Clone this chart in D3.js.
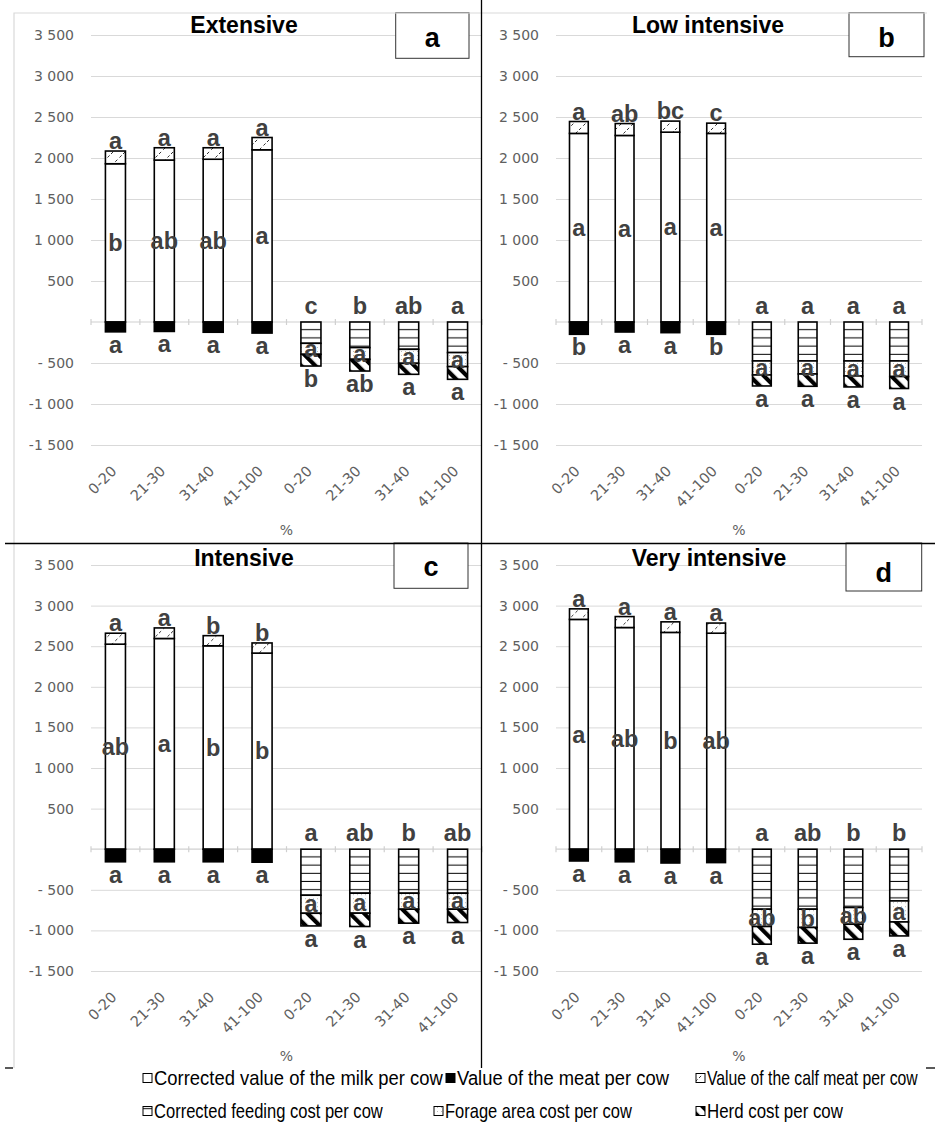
<!DOCTYPE html>
<html><head><meta charset="utf-8">
<script src="https://cdn.jsdelivr.net/npm/d3@7"></script>
<style>body{margin:0;background:#fff} svg{display:block}</style>
</head><body>
<svg id="c" width="937" height="1127"></svg>
<script>
// ---------- DATA ----------
const categories = ["0-20","21-30","31-40","41-100"];
const yTicks = [-1500,-1000,-500,0,500,1000,1500,2000,2500,3000,3500];
const yTickLabels = ["-1 500","-1 000","- 500","","500","1 000","1 500","2 000","2 500","3 000","3 500"];
const panelTitles = ["Extensive","Low intensive","Intensive","Very intensive"];
const panelLetters = ["a","b","c","d"];
const xTitle = "%";

// revenues (first four bars of each panel)
const milk     = [[1930,1975,1985,2100],[2300,2275,2315,2300],[2525,2595,2505,2415],[2830,2730,2670,2660]];
const calfMeat = [[155,150,140,150],[145,145,135,125],[135,130,125,125],[130,135,130,125]];
const meat     = [[-120,-115,-125,-135],[-150,-122,-130,-150],[-155,-155,-155,-160],[-145,-155,-170,-165]];
// costs (last four bars of each panel)
const feedingCost = [[-260,-312,-333,-373],[-475,-475,-475,-475],[-567,-542,-542,-542],[-739,-739,-718,-637]];
const forageCost  = [[-134,-143,-171,-171],[-171,-159,-183,-190],[-222,-246,-197,-197],[-213,-225,-206,-259]];
const herdCost    = [[-143,-143,-134,-155],[-134,-150,-134,-146],[-156,-164,-172,-164],[-218,-193,-185,-172]];

// significance letters
const milkSig    = [["b","ab","ab","a"],["a","a","a","a"],["ab","a","b","b"],["a","ab","b","ab"]];
const calfSig    = [["a","a","a","a"],["a","ab","bc","c"],["a","a","b","b"],["a","a","a","a"]];
const meatSig    = [["a","a","a","a"],["b","a","a","b"],["a","a","a","a"],["a","a","a","a"]];
const feedingSig = [["c","b","ab","a"],["a","a","a","a"],["a","ab","b","ab"],["a","ab","b","b"]];
const forageSig  = [["a","a","a","a"],["a","a","a","a"],["a","a","a","a"],["ab","b","ab","a"]];
const herdSig    = [["b","ab","a","a"],["a","a","a","a"],["a","a","a","a"],["a","a","a","a"]];

const legendNames = [
  ["Corrected value of the milk per cow","Value of the meat per cow","Value of the calf meat per cow"],
  ["Corrected feeding cost per cow","Forage area cost per cow","Herd cost per cow"]
];

// ---------- LAYOUT ----------
const panels = [
  {x0:91, x1:482, yTop:35,  yBot:445, titleX:244, titleY:33,  box:[395.7,12.7,73.3,45.6], letterY:47,  pctY:535},
  {x0:556,x1:922, yTop:35,  yBot:445, titleX:708, titleY:33,  box:[849,12.7,75,44],       letterY:47,  pctY:535},
  {x0:91, x1:482, yTop:565, yBot:971, titleX:244, titleY:566, box:[394,543,74,45.3],      letterY:576, pctY:1061},
  {x0:556,x1:922, yTop:565, yBot:971, titleX:709, titleY:566, box:[846,543,75.7,48],      letterY:582, pctY:1061}
];

const svg = d3.select("#c");
const defs = svg.append("defs");
const tickFont = "'DejaVu Sans', sans-serif";
const labFont = "'Liberation Sans', Arial, sans-serif";

function makePatterns(id, yOff){
  let p = defs.append("pattern").attr("id","calf"+id).attr("patternUnits","userSpaceOnUse")
    .attr("width",12).attr("height",12).attr("patternTransform",`translate(3,${yOff})`);
  p.append("rect").attr("width",12).attr("height",12).attr("fill","#fff");
  p.append("path").attr("d","M0,12 L12,0").attr("stroke","#333").attr("stroke-width",1).attr("stroke-dasharray","3,3");
  p = defs.append("pattern").attr("id","feed"+id).attr("patternUnits","userSpaceOnUse")
    .attr("width",8).attr("height",8.2).attr("patternTransform",`translate(0,${yOff})`);
  p.append("rect").attr("width",8).attr("height",8.2).attr("fill","#fff");
  p.append("rect").attr("y",7.2).attr("width",8).attr("height",1.3).attr("fill","#000");
  p = defs.append("pattern").attr("id","forage"+id).attr("patternUnits","userSpaceOnUse")
    .attr("width",4).attr("height",4).attr("patternTransform",`translate(0,${yOff})`);
  p.append("rect").attr("width",4).attr("height",4).attr("fill","#fff");
  p.append("rect").attr("x",1).attr("y",1).attr("width",0.9).attr("height",0.9).attr("fill","#aaa");
  p = defs.append("pattern").attr("id","herd"+id).attr("patternUnits","userSpaceOnUse")
    .attr("width",10).attr("height",10).attr("patternTransform",`translate(0,${yOff}) rotate(-45)`);
  p.append("rect").attr("width",10).attr("height",10).attr("fill","#fff");
  p.append("rect").attr("width",4.2).attr("height",10).attr("fill","#000");
}

panels.forEach((P, pi) => {
  const slots = d3.range(8);
  const x = d3.scaleBand().domain(slots).range([P.x0, P.x1]).paddingInner(0.59).paddingOuter(0.295);
  const y = d3.scaleLinear().domain([-1500, 3500]).range([P.yBot, P.yTop]);
  const step = x.step();
  makePatterns(pi, y(0));
  const g = svg.append("g");

  const yAxis = d3.axisLeft(y).tickValues(yTicks).tickFormat((d,i)=>yTickLabels[i])
    .tickSize(-(P.x1-P.x0)).tickPadding(17);
  const ga = g.append("g").attr("transform",`translate(${P.x0},0)`).call(yAxis);
  ga.select(".domain").remove();
  ga.selectAll(".tick line").attr("stroke","#d9d9d9").attr("stroke-width",1)
    .attr("opacity", d => d===0 ? 0 : 1);
  ga.selectAll(".tick text").attr("fill","#606060").style("font-family",tickFont).style("font-size","14px");

  g.append("line").attr("x1",P.x0).attr("x2",P.x1).attr("y1",y(0)).attr("y2",y(0))
    .attr("stroke","#d0d0d0").attr("stroke-width",1.2);
  g.selectAll(".ctick").data(d3.range(9)).join("line")
    .attr("x1",k=>P.x0+k*step).attr("x2",k=>P.x0+k*step)
    .attr("y1",y(0)-3).attr("y2",y(0)+3).attr("stroke","#d0d0d0").attr("stroke-width",1.2);

  g.selectAll(".xl").data(slots).join("text")
    .attr("transform",s=>`translate(${x(s)+x.bandwidth()/2+2},${P.yBot+27}) rotate(-45)`)
    .attr("text-anchor","end").attr("fill","#606060")
    .style("font-family",tickFont).style("font-size","14.5px")
    .text(s=>categories[s%4]);
  g.append("text").attr("x",(P.x0+P.x1)/2).attr("y",P.pctY).attr("text-anchor","middle")
    .attr("fill","#606060").style("font-family",tickFont).style("font-size","14px").text(xTitle);

  const segs = [];
  categories.forEach((c,i)=>{
    const m = milk[pi][i], cf = calfMeat[pi][i], mt = meat[pi][i];
    segs.push({s:i, a:0, b:m, fill:"#fff"});
    segs.push({s:i, a:m, b:m+cf, fill:`url(#calf${pi})`});
    segs.push({s:i, a:0, b:mt, fill:"#000"});
    const f = feedingCost[pi][i], fo = forageCost[pi][i], h = herdCost[pi][i];
    segs.push({s:4+i, a:0, b:f, fill:`url(#feed${pi})`});
    segs.push({s:4+i, a:f, b:f+fo, fill:`url(#forage${pi})`});
    segs.push({s:4+i, a:f+fo, b:f+fo+h, fill:`url(#herd${pi})`});
  });
  g.selectAll(".seg").data(segs).join("rect")
    .attr("x",d=>x(d.s)).attr("width",x.bandwidth())
    .attr("y",d=>y(Math.max(d.a,d.b))).attr("height",d=>Math.abs(y(d.a)-y(d.b)))
    .attr("fill",d=>d.fill).attr("stroke","#000").attr("stroke-width",1.6);

  const labs = [];
  categories.forEach((c,i)=>{
    const cx = x(i)+x.bandwidth()/2, cx2 = x(4+i)+x.bandwidth()/2;
    const m = milk[pi][i], cf = calfMeat[pi][i], mt = meat[pi][i];
    labs.push({x:cx, y:y(m/2), dy:"0.35em", t:milkSig[pi][i]});
    labs.push({x:cx, y:y(m+cf)-2, dy:0, t:calfSig[pi][i]});
    labs.push({x:cx, y:y(mt)+21, dy:0, t:meatSig[pi][i]});
    const f = feedingCost[pi][i], fo = forageCost[pi][i], h = herdCost[pi][i];
    labs.push({x:cx2, y:y(0)-8, dy:0, t:feedingSig[pi][i]});
    labs.push({x:cx2, y:y(f+fo/2), dy:"0.35em", t:forageSig[pi][i]});
    labs.push({x:cx2, y:y(f+fo+h)+21, dy:0, t:herdSig[pi][i]});
  });
  g.selectAll(".lab").data(labs).join("text")
    .attr("x",d=>d.x).attr("y",d=>d.y).attr("dy",d=>d.dy).attr("text-anchor","middle")
    .attr("fill","#404040").style("font-family",labFont).style("font-weight","bold").style("font-size","23.5px")
    .text(d=>d.t);

  g.append("text").attr("x",P.titleX).attr("y",P.titleY).attr("text-anchor","middle")
    .style("font-family",labFont).style("font-weight","bold").style("font-size","23px").attr("fill","#000")
    .text(panelTitles[pi]);
  g.append("rect").attr("x",P.box[0]).attr("y",P.box[1]).attr("width",P.box[2]).attr("height",P.box[3])
    .attr("fill","#fff").attr("stroke","#333").attr("stroke-width",1);
  g.append("text").attr("x",P.box[0]+P.box[2]/2).attr("y",P.letterY).attr("text-anchor","middle")
    .style("font-family",labFont).style("font-weight","bold").style("font-size","27px").attr("fill","#000")
    .text(panelLetters[pi]);
});

const border = svg.append("g").attr("stroke","#d9d9d9").attr("stroke-width",1.2).attr("fill","none");
border.append("path").attr("d","M14,543 V13 H481");
border.append("path").attr("d","M482,13 H927");
border.append("path").attr("d","M14,1068 V543");

const div = svg.append("g").attr("stroke","#000").attr("stroke-width",1.3);
div.append("line").attr("x1",481.5).attr("x2",481.5).attr("y1",0).attr("y2",1068);
div.append("line").attr("x1",5).attr("x2",935).attr("y1",543.5).attr("y2",543.5);
div.append("line").attr("x1",5).attr("x2",13).attr("y1",1068).attr("y2",1068);
div.append("line").attr("x1",926).attr("x2",935).attr("y1",1068).attr("y2",1068);

// legend
const legFills = [["#fff","#000","url(#calf0)"],["url(#feed0)","url(#forage0)","url(#herd0)"]];
const legX = [[143,446,696],[143,434,696]];
const legW = [[289,212,211],[229,187,136]];
const legY = [1078,1111];
const lg = svg.append("g");
legendNames.forEach((row,r)=>{
  row.forEach((name,k)=>{
    lg.append("rect").attr("x",legX[r][k]).attr("y",legY[r]-4.5).attr("width",9).attr("height",9)
      .attr("fill",legFills[r][k]).attr("stroke","#000").attr("stroke-width",1);
    const tg = lg.append("g").attr("transform",`translate(${legX[r][k]+11},${legY[r]})`);
    const t = tg.append("text").attr("x",0).attr("y",0).attr("dy","0.36em")
      .style("font-family","'Liberation Sans Narrow','Arial Narrow','Liberation Sans',sans-serif")
      .style("font-size","20.5px").attr("fill","#000").text(name);
    const w = t.node().getComputedTextLength();
    t.attr("transform",`scale(${legW[r][k]/w},1)`);
  });
});
</script>
</body></html>
